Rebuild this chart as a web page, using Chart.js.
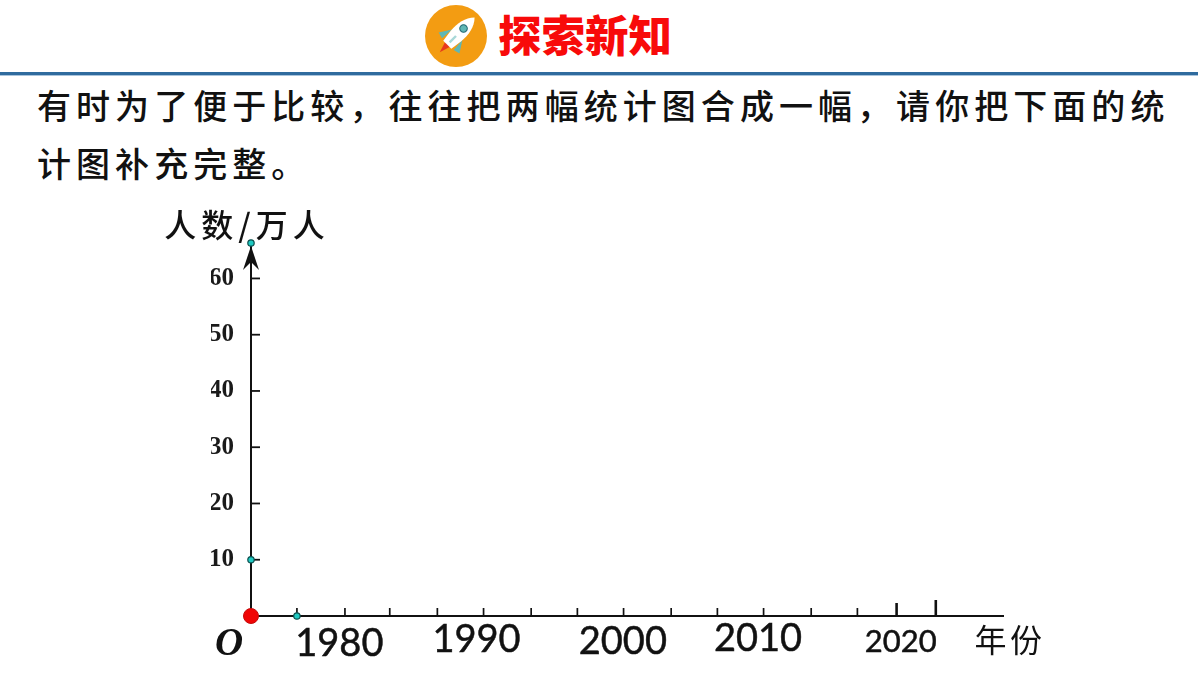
<!DOCTYPE html>
<html lang="zh">
<head>
<meta charset="utf-8">
<title>探索新知</title>
<script src="https://cdn.jsdelivr.net/npm/chart.js@4"></script>
<style>
    html, body { margin: 0; padding: 0; background: #fff; }
    body { position: relative; width: 1200px; height: 675px; overflow: hidden; font-family: "Noto Sans CJK SC", sans-serif; }
    #chart { position: absolute; left: 0; top: 0; }
    #badge { position: absolute; left: 424px; top: 4px; }
    h1 { position: absolute; left: 498px; top: 3px; margin: 0; font-size: 43.5px; line-height: 62px; font-weight: 900; color: #f80a0a; white-space: nowrap; }
    #rule { position: absolute; left: 0; top: 72px; width: 1198px; height: 3px; background: #2f6b9e; border-bottom: 1px solid #a9c4dc; }
    p { position: absolute; left: 37px; margin: 0; font-size: 34px; line-height: 46px; letter-spacing: 5.05px; font-weight: 500; color: #111; white-space: nowrap; }
</style>
</head>
<body>
<svg id="badge" width="64" height="64" viewBox="0 0 64 64">
    <circle cx="32" cy="32" r="31" fill="#f39c12"/>
    <g transform="rotate(45 32 32) translate(32 32) scale(0.82) translate(-32 -32)">
        <path d="M27 44 L37 44 L32 60 Z" fill="#e8391d"/>
        <path d="M23 30 L14 44 L22 46 Z M41 30 L50 44 L42 46 Z" fill="#5fb7b5"/>
        <path d="M32 0 C40 8 42 20 41 32 L39 47 L25 47 L23 32 C22 20 24 8 32 0 Z" fill="#fff"/>
        <circle cx="32" cy="19" r="4.5" fill="#5fb7b5" stroke="#2b6f78" stroke-width="1.5"/>
        <rect x="30.5" y="32" width="3" height="11" fill="#a8d8d8"/>
    </g>
</svg>
<h1>探索新知</h1>
<div id="rule"></div>
<p style="top:82px">有时为了便于比较，往往把两幅统计图合成一幅，请你把下面的统</p>
<p style="top:140px">计图补充完整。</p>
<canvas id="chart" width="1200" height="675"></canvas>

<script>
// axis tick positions, in years and in 万人
const xTickYears = [1976.57, 1980, 1983.2, 1986.6, 1989.9, 1993.3, 1996.6, 1999.9, 2003.3, 2006.6, 2009.9, 2013.3, 2016.6, 2019.4, 2022.2];
const yTicks = [10, 20, 30, 40, 50, 60];
const xLabels = ["1980", "1990", "2000", "2010", "2020"];
const xLabelYears = [1979.6, 1989.4, 1999.85, 2009.5, 2019.7];

// points marked on the axes
const axisDots = [
    { x: 1973.29, y: 66.3 },
    { x: 1973.29, y: 10 },
    { x: 1976.57, y: 0 },
];
const originDot = [{ x: 1973.29, y: 0 }];

const xMin = 1973.29;
const xMax = 2027;
const yMax = 66.3;

// tick marks, arrow head and the text placed around the axes
const axisDecor = {
    id: "axisDecor",
    beforeDatasetsDraw(chart) {
        const { ctx, scales: { x, y } } = chart;
        const x0 = x.getPixelForValue(xMin);
        const y0 = y.getPixelForValue(0);
        ctx.save();
        ctx.strokeStyle = "#111";

        ctx.lineWidth = 1.8;
        yTicks.forEach((v) => {
            const py = y.getPixelForValue(v);
            ctx.beginPath();
            ctx.moveTo(x0, py);
            ctx.lineTo(x0 + 9, py);
            ctx.stroke();
        });

        xTickYears.forEach((v, i) => {
            const px = x.getPixelForValue(v);
            // the last two marks were added by hand and stand taller
            const tall = i >= xTickYears.length - 2;
            const h = !tall ? 8 : i === xTickYears.length - 1 ? 16 : 13;
            ctx.lineWidth = tall ? 2.6 : 1.7;
            ctx.beginPath();
            ctx.moveTo(px, y0);
            ctx.lineTo(px, y0 - h);
            ctx.stroke();
        });

        // arrow head on the value axis
        const top = y.getPixelForValue(yMax);
        ctx.fillStyle = "#111";
        ctx.beginPath();
        ctx.moveTo(x0, top + 3);
        ctx.lineTo(x0 + 8, top + 27);
        ctx.lineTo(x0, top + 19);
        ctx.lineTo(x0 - 8, top + 27);
        ctx.closePath();
        ctx.fill();

        ctx.fillStyle = "#111";
        ctx.textAlign = "center";
        ctx.textBaseline = "middle";
        const yShift = [28, 24, 26, 23, 26];
        xLabels.forEach((label, i) => {
            ctx.font = i === 4 ? '31px Lato' : '38px Lato';
            ctx.lineWidth = 0.5;
            ctx.strokeText(label, x.getPixelForValue(xLabelYears[i]), y0 + yShift[i]);
            ctx.fillText(label, x.getPixelForValue(xLabelYears[i]), y0 + yShift[i]);
        });

        ctx.font = 'italic bold 39px "Liberation Serif"';
        ctx.fillText("O", x0 - 22, y0 + 29);

        ctx.font = '32px "Noto Sans CJK SC"';
        ctx.letterSpacing = "3.5px";
        ctx.fillText("年份", x.getPixelForValue(xMax) + 7, y0 + 24);
        ctx.font = '500 32px "Noto Sans CJK SC"';
        ctx.letterSpacing = "5px";
        ctx.fillText("人数/万人", x0 - 4, top - 18);
        ctx.restore();
    },
};

new Chart(document.getElementById("chart"), {
    type: "scatter",
    data: {
        datasets: [
            {
                label: "origin",
                data: originDot,
                pointRadius: 7.5,
                backgroundColor: "#f00505",
                borderColor: "#c40a0a",
                borderWidth: 1,
                clip: false,
            },
            {
                label: "axis points",
                data: axisDots,
                pointRadius: 3.2,
                backgroundColor: "#1fc9c2",
                borderColor: "#0d4f4d",
                borderWidth: 1.2,
                clip: false,
            },
        ],
    },
    plugins: [axisDecor],
    options: {
        responsive: false,
        animation: false,
        layout: { padding: { left: 211, top: 243, right: 197, bottom: 59 } },
        plugins: {
            legend: { display: false },
            tooltip: { enabled: false },
        },
        scales: {
            x: {
                type: "linear",
                min: xMin,
                max: xMax,
                grid: { display: false },
                border: { color: "#111", width: 2 },
                ticks: { display: false },
                afterFit(scale) { scale.height = 0; },
            },
            y: {
                min: 0,
                max: yMax,
                grid: { display: false, drawTicks: false },
                border: { color: "#111", width: 2 },
                afterBuildTicks(scale) { scale.ticks = yTicks.map((value) => ({ value })); },
                afterFit(scale) { scale.width = 40; },
                ticks: {
                    padding: 17,
                    color: "#1a1a1a",
                    font: { family: "Liberation Serif", size: 25, weight: "bold" },
                },
            },
        },
    },
});
</script>
</body>
</html>
